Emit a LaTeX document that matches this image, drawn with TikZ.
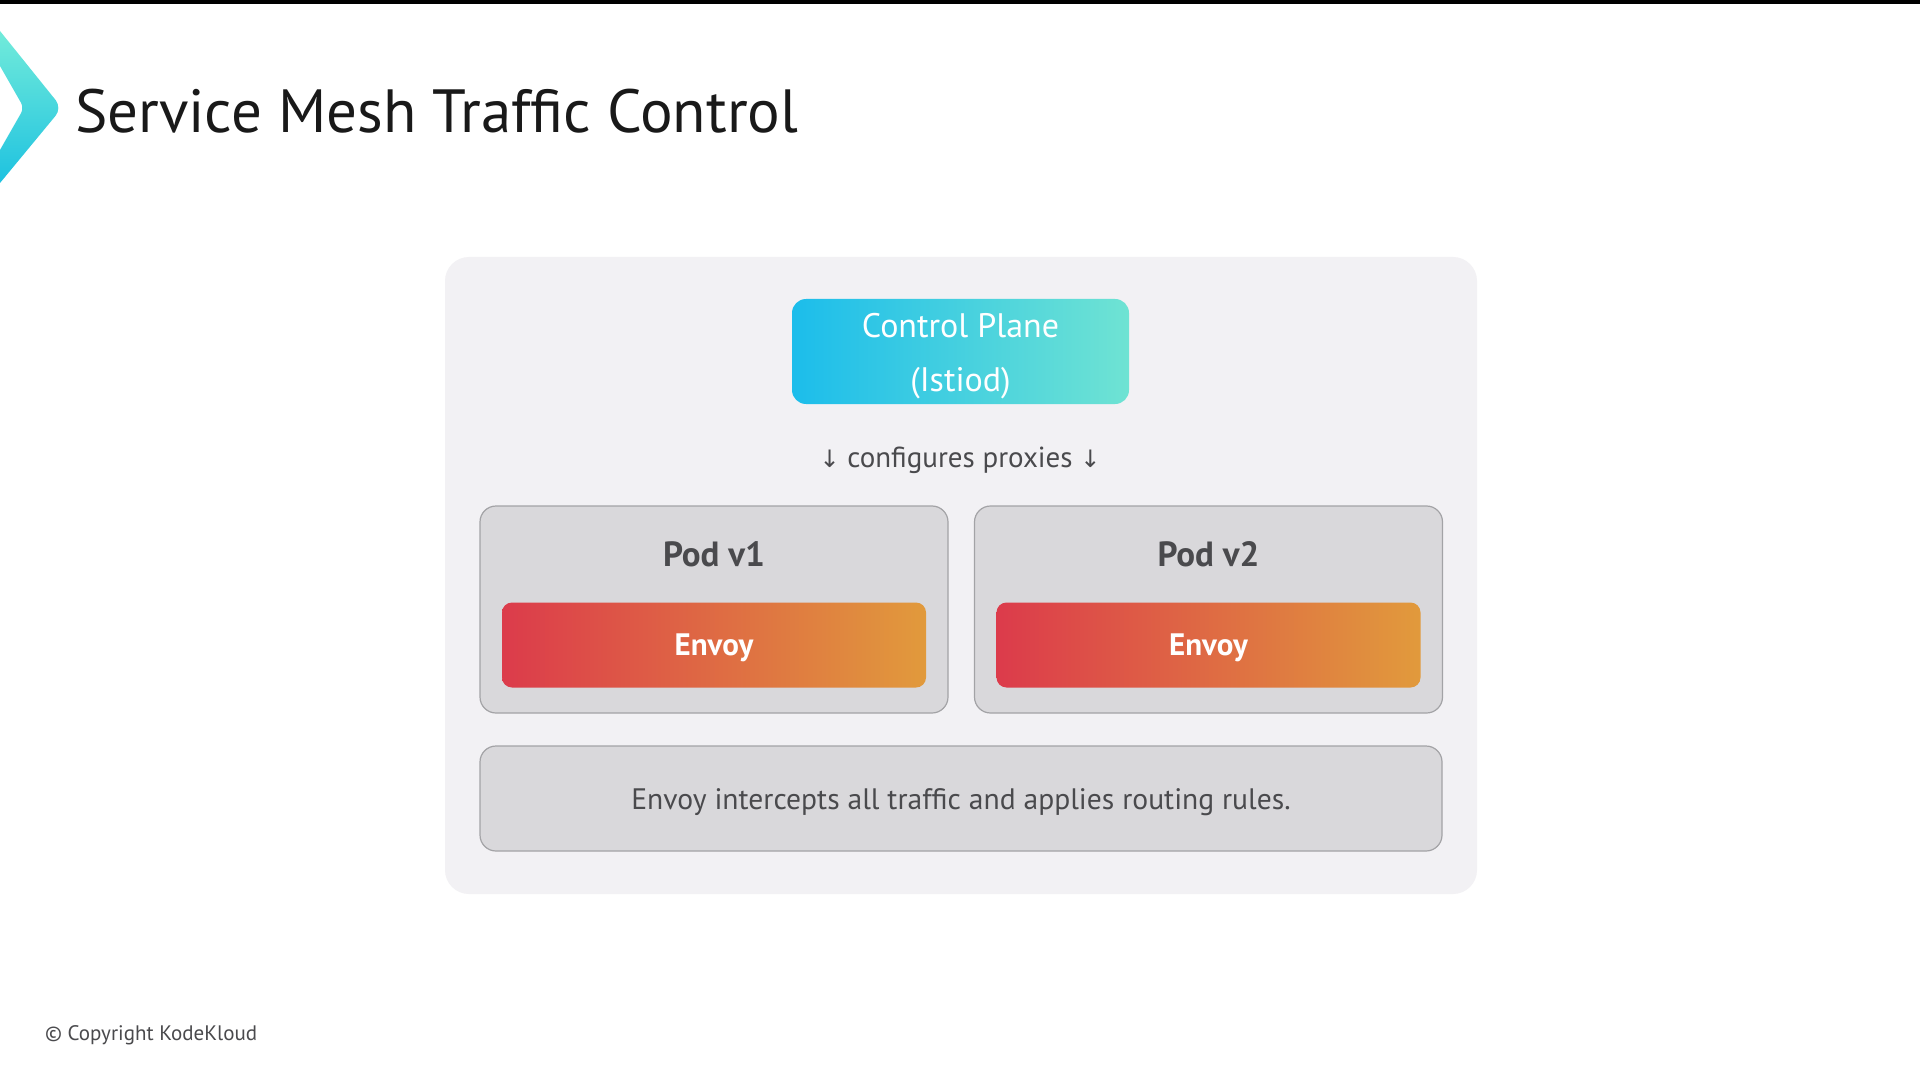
\documentclass[tikz,border=0pt]{standalone}
\usepackage{fontspec}
\setmainfont{PT Sans}
\newfontfamily\symfont{DejaVu Sans}
\usetikzlibrary{positioning}
\definecolor{panelgray}{HTML}{F2F1F4}
\definecolor{podgray}{HTML}{D9D8DB}
\definecolor{podline}{HTML}{A3A3A6}
\definecolor{textgray}{HTML}{4A4A4D}
\definecolor{cpleft}{HTML}{1CBDEB}
\definecolor{cpright}{HTML}{6FE3D3}
\definecolor{logotop}{HTML}{72EBDA}
\definecolor{logobottom}{HTML}{1EC2E0}
\definecolor{envleft}{HTML}{DC3B4B}
\definecolor{envright}{HTML}{E19A3C}
\newcommand{\downarr}{{\symfont\fontsize{12}{14}\selectfont ↓}}
\tikzset{
	podbox/.style={draw=podline, line width=0.6pt, fill=podgray, rounded corners=8pt, minimum width=234pt, minimum height=103.5pt},
	envoybox/.style={rounded corners=5pt, left color=envleft, right color=envright, minimum width=212pt, minimum height=42.5pt},
	envoytext/.style={text=white, font=\fontsize{15.5}{18}\selectfont\bfseries},
	podlabel/.style={text=textgray, font=\fontsize{17.5}{20}\selectfont\bfseries},
}

\begin{document}
\begin{tikzpicture}[x=0.5pt, y=-0.5pt]
			%%%%% START %%%%%
			\useasboundingbox (0, 0) rectangle (1920, 1080);
			\fill[white] (0, 0) rectangle (1920, 1080);
			\fill[black] (0, 0) rectangle (1920, 4);
			
			% logo and title
			\shade[top color=logotop, bottom color=logobottom] (0, 31) [rounded corners=5pt] -- (62, 108) [sharp corners] -- (0, 183) -- (0, 150) [rounded corners=3pt] -- (24, 108) [sharp corners] -- (0, 66) -- cycle;
			\node[anchor=base west, font=\fontsize{30.5}{36}\selectfont, text=black!90] (title) at (68, 133) {Service Mesh Traffic Control};
			
			% panel
			\fill[panelgray, rounded corners=12pt] (445, 257) rectangle (1477, 894);
			
			\node[rounded corners=7pt, left color=cpleft, right color=cpright, minimum width=168.5pt, minimum height=52.5pt] (ctrl) at (960.5, 351.5) {};
			\node[text=white, align=center, font=\fontsize{17}{27}\selectfont] (ctrltext) at ([yshift=-2.5pt]ctrl.center) {Control Plane\\(Istiod)};
			\node[text=textgray, font=\fontsize{14.5}{18}\selectfont] (conf) at (960, 460) {\downarr\ configures proxies \downarr};
			
			\node[podbox] (pod1) at (714, 609.5) {};
			\node[podbox] (pod2) at (1208.5, 609.5) {};
			\node[podlabel] (pod1label) at (714, 554) {Pod v1};
			\node[podlabel] (pod2label) at (1208.5, 554) {Pod v2};
			\node[envoybox] (envoy1) at (714, 645) {};
			\node[envoybox] (envoy2) at (1208.5, 645) {};
			\node[envoytext] (envoy1text) at ([yshift=-1.2pt]envoy1.center) {Envoy};
			\node[envoytext] (envoy2text) at ([yshift=-1.2pt]envoy2.center) {Envoy};
			
			\node[podbox, minimum width=481pt, minimum height=52.5pt] (note) at (961, 798.5) {};
			\node[text=textgray, font=\fontsize{14.8}{18}\selectfont] (notetext) at ([yshift=-1.8pt]note.center) {Envoy intercepts all traffic and applies routing rules.};
			
			% footer
			\node[anchor=west, text=textgray, font=\fontsize{10.5}{12}\selectfont] (copy) at (38, 1035) {© Copyright KodeKloud};
			%%%%% END %%%%%
\end{tikzpicture}
\end{document}
